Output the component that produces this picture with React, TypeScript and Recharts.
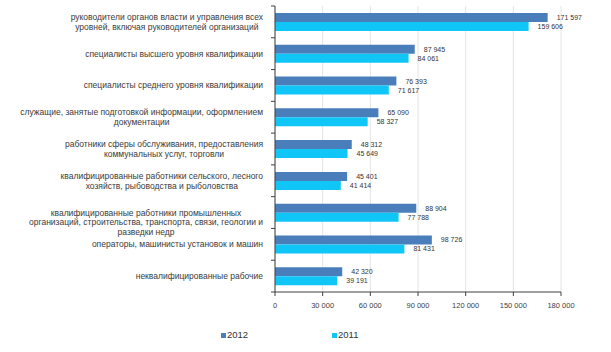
import React from "react";
import { BarChart, Bar, XAxis, YAxis, CartesianGrid, LabelList } from "recharts";

const categories: string[][] = [
  ["руководители органов власти и управления всех", "уровней, включая руководителей организаций"],
  ["специалисты высшего уровня квалификации"],
  ["специалисты среднего уровня квалификации"],
  ["служащие, занятые подготовкой информации, оформлением", "документации"],
  ["работники сферы обслуживания, предоставления", "коммунальных услуг, торговли"],
  ["квалифицированные работники сельского, лесного", "хозяйств, рыбоводства и рыболовства"],
  ["квалифицированные работники промышленных", "организаций, строительства, транспорта, связи, геологии и", "разведки недр"],
  ["операторы, машинисты установок и машин"],
  ["неквалифицированные рабочие"],
];
const values2012 = [171597, 87945, 76393, 65090, 48312, 45401, 88904, 98726, 42320];
const values2011 = [159606, 84061, 71617, 58327, 45649, 41414, 77788, 81431, 39191];
const xTicks = [0, 30000, 60000, 90000, 120000, 150000, 180000];
const seriesNames = ["2012", "2011"];
const seriesColors = ["#4A7EBB", "#0FC6F7"];

const data = categories.map((lines, i) => ({
  name: lines.join(" "),
  lines,
  v2012: values2012[i],
  v2011: values2011[i],
}));

const W = 611;
const H = 352;
const M_TOP = 6;
const X_AXIS_H = 60;
const Y_AXIS_W = 275;
const M_RIGHT = 50;
const PLOT_H = H - M_TOP - X_AXIS_H;
const BAND = PLOT_H / categories.length;
const FONT = "'Liberation Sans', Arial, sans-serif";

const fmt = (v: number) => String(v).replace(/\B(?=(\d{3})+(?!\d))/g, " ");

let ctx: CanvasRenderingContext2D | null = null;
function measure(text: string, size: number): number {
  if (!ctx) {
    const c = document.createElement("canvas");
    ctx = c.getContext("2d");
  }
  if (!ctx) return text.length * size * 0.5;
  ctx.font = `${size}px 'Liberation Sans', Arial, sans-serif`;
  return ctx.measureText(text).width;
}

const CatTick = (props: any) => {
  const { y, payload, index } = props;
  const item = data.find((d) => d.name === payload.value);
  const lines = item ? item.lines : [String(payload.value)];
  const fs = 8.5;
  const lh = 9.8;
  const maxW = Math.max(...lines.map((l) => measure(l, fs)));
  const axisX = Y_AXIS_W;
  const right = axisX - 12;
  const cx = right - maxW / 2;
  const startY = y - ((lines.length - 1) * lh) / 2 + (lines.length > 2 ? lh : 0);
  return (
    <g>
      <line x1={axisX - 4} x2={axisX} y1={y - BAND / 2} y2={y - BAND / 2} stroke="#404040" strokeWidth={1} />
      {index === categories.length - 1 && (
        <line x1={axisX - 4} x2={axisX} y1={y + BAND / 2} y2={y + BAND / 2} stroke="#404040" strokeWidth={1} />
      )}
      <text x={cx} y={startY} textAnchor="middle" dominantBaseline="central" fontSize={fs} fontFamily={FONT} fill="#3a3a3a">
        {lines.map((l, i) => (
          <tspan key={i} x={cx} y={startY + i * lh}>
            {l}
          </tspan>
        ))}
      </text>
    </g>
  );
};

const ValueLabel = (props: any) => {
  const { x, y, width, height, value } = props;
  return (
    <text
      x={Number(x) + Number(width) + 9}
      y={Number(y) + Number(height) / 2}
      dominantBaseline="central"
      fontSize={7}
      fontFamily={FONT}
      fill="#333"
    >
      {fmt(Number(value))}
    </text>
  );
};

export default function App() {
  return (
    <div style={{ position: "fixed", left: 0, top: 0, width: W, height: H, background: "#fff" }}>
      <BarChart
        width={W}
        height={H}
        data={data}
        layout="vertical"
        margin={{ top: M_TOP, right: M_RIGHT, left: 0, bottom: 0 }}
        barGap={0}
        barCategoryGap="22%"
      >
        <CartesianGrid horizontal={false} vertical={true} stroke="#e4e4e4" />
        <XAxis
          type="number"
          domain={[0, 180000]}
          ticks={xTicks}
          height={X_AXIS_H}
          tickFormatter={fmt}
          tickSize={4}
          tickMargin={7}
          axisLine={{ stroke: "#404040" }}
          tickLine={{ stroke: "#404040" }}
          tick={{ fontSize: 7.5, fontFamily: FONT, fill: "#404040" }}
          interval={0}
        />
        <YAxis
          type="category"
          dataKey="name"
          width={Y_AXIS_W}
          axisLine={{ stroke: "#404040" }}
          tickLine={false}
          tickSize={0}
          tickMargin={0}
          tick={<CatTick />}
          interval={0}
        />
        <Bar dataKey="v2012" name={seriesNames[0]} fill={seriesColors[0]} barSize={9} isAnimationActive={false}>
          <LabelList dataKey="v2012" content={<ValueLabel />} />
        </Bar>
        <Bar dataKey="v2011" name={seriesNames[1]} fill={seriesColors[1]} barSize={9} isAnimationActive={false}>
          <LabelList dataKey="v2011" content={<ValueLabel />} />
        </Bar>
      </BarChart>
      {seriesNames.map((n, i) => (
        <div
          key={n}
          style={{
            position: "absolute",
            left: 221 + i * 111,
            top: 329,
            display: "flex",
            alignItems: "center",
            fontFamily: FONT,
            fontSize: 9.5,
            color: "#333",
            lineHeight: "12px",
          }}
        >
          <span style={{ display: "inline-block", width: 5, height: 5, background: seriesColors[i], marginRight: 1 }} />
          {n}
        </div>
      ))}
    </div>
  );
}
